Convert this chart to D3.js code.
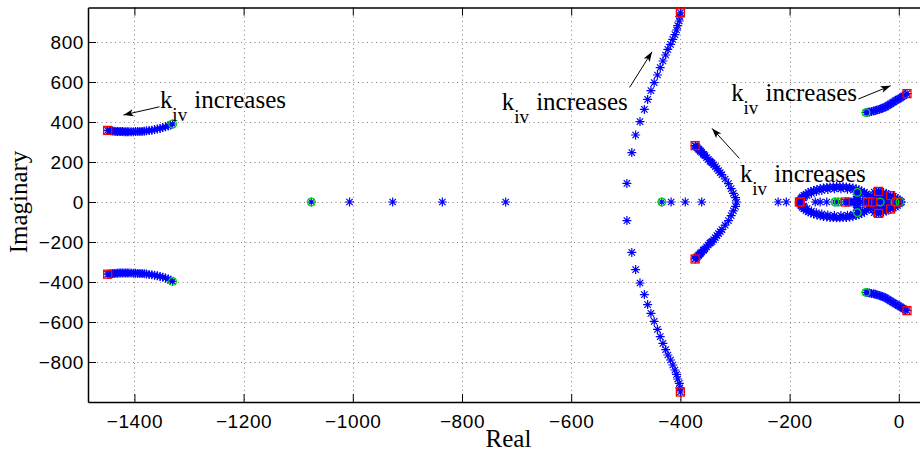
<!DOCTYPE html>
<html>
<head>
<meta charset="utf-8">
<script src="https://cdn.jsdelivr.net/npm/d3@7"></script>
<style>
body { margin: 0; background: #fff; }
svg { display: block; }
</style>
</head>
<body>
<script>
// root locus points [real, imag]
var branchA_up = [[-1449,358],[-1446,357],[-1443,356],[-1440,355],[-1437,354],[-1434,353],[-1431,353],[-1428,352],[-1425,352],[-1422,352],[-1419,351],[-1416,351],[-1413,351],[-1410,351],[-1406,351],[-1402,351],[-1398,352],[-1394,352],[-1390,353],[-1386,353],[-1382,354],[-1378,356],[-1373,357],[-1368,359],[-1363,362],[-1358,365],[-1353,368],[-1348,372],[-1343,376],[-1338,381],[-1334,385],[-1330,390]];
var branchA_lo = [[-1449,-361],[-1446,-360],[-1443,-359],[-1440,-358],[-1437,-357],[-1434,-356],[-1431,-356],[-1428,-355],[-1425,-355],[-1422,-355],[-1419,-355],[-1416,-355],[-1413,-355],[-1410,-355],[-1406,-355],[-1402,-356],[-1398,-356],[-1394,-357],[-1390,-357],[-1386,-358],[-1382,-359],[-1378,-360],[-1373,-362],[-1368,-364],[-1363,-366],[-1358,-369],[-1353,-372],[-1348,-376],[-1343,-380],[-1338,-385],[-1334,-391],[-1330,-397]];
var branchB_axis = [[-1076,0],[-1006,0],[-927,0],[-836,0],[-720,0]];
var branchB_up = [[-498,93],[-489,247],[-482,335],[-474,402],[-466,463],[-460,513],[-454,557],[-448,597],[-442,635],[-437,672],[-432,705],[-427,735],[-423,763],[-418,788],[-414,813],[-410,837],[-407,860],[-405,882],[-402,905],[-401,927],[-400,946]];
var branchB_lo = [[-498,-93],[-489,-252],[-482,-338],[-474,-405],[-466,-463],[-460,-513],[-454,-557],[-448,-597],[-442,-637],[-437,-673],[-432,-707],[-427,-738],[-423,-765],[-418,-790],[-414,-815],[-410,-840],[-407,-862],[-405,-885],[-402,-907],[-401,-929],[-400,-950]];
var branchC_axis = [[-434,0],[-417,0],[-391,0],[-361,0],[-297,0]];
var branchC_up = [[-299,22],[-303,43],[-307,67],[-312,92],[-318,115],[-324,137],[-327,147],[-330,157],[-333,167],[-336,177],[-339,186],[-342,195],[-344,200],[-346,204],[-349,213],[-352,222],[-355,232],[-357,237],[-358,240],[-361,248],[-363,253],[-364,257],[-366,262],[-367,265],[-369,270],[-370,274],[-372,279],[-373,282]];
var branchC_lo = [[-299,-22],[-303,-44],[-307,-68],[-312,-93],[-318,-116],[-324,-138],[-327,-148],[-330,-158],[-333,-168],[-336,-178],[-339,-188],[-342,-197],[-344,-202],[-346,-206],[-349,-215],[-352,-224],[-355,-234],[-357,-239],[-358,-242],[-361,-250],[-363,-255],[-364,-259],[-366,-264],[-367,-268],[-369,-273],[-370,-277],[-372,-282],[-373,-285]];
var branchD_up = [[-60,447],[-57,449],[-54,450],[-50,453],[-46,455],[-43,457],[-40,460],[-36,463],[-33,466],[-30,469],[-27,472],[-24,476],[-21,481],[-18,486],[-15,491],[-12,496],[-9,501],[-6,507],[-3,511],[0,516],[3,520],[6,525],[9,531],[12,537],[15,542]];
var branchD_lo = [[-60,-452],[-57,-453],[-54,-455],[-50,-457],[-46,-459],[-43,-461],[-40,-464],[-36,-467],[-33,-470],[-30,-473],[-27,-476],[-24,-480],[-21,-485],[-18,-490],[-15,-495],[-12,-500],[-9,-505],[-6,-510],[-3,-514],[0,-519],[3,-524],[6,-529],[9,-534],[12,-539],[15,-543]];
var branchE_up = [[-182,2],[-181,10],[-179,18],[-177,26],[-174,33],[-170,40],[-166,47],[-161,53],[-156,58],[-150,63],[-144,67],[-138,70],[-132,73],[-126,75],[-120,76],[-114,77],[-108,77],[-102,76],[-96,75],[-90,73],[-84,70],[-78,66],[-73,61],[-68,55],[-63,48],[-59,41],[-55,33],[-52,25],[-50,16],[-49,8]];
var branchE_lo = [[-182,-2],[-181,-10],[-179,-19],[-177,-27],[-174,-34],[-170,-42],[-166,-49],[-161,-55],[-156,-60],[-150,-65],[-144,-69],[-138,-72],[-132,-75],[-126,-77],[-120,-78],[-114,-79],[-108,-79],[-102,-78],[-96,-77],[-90,-75],[-84,-72],[-78,-68],[-73,-63],[-68,-57],[-63,-50],[-59,-42],[-55,-34],[-52,-26],[-50,-17],[-49,-8]];
var branchE2_up = [[-178,8],[-174,20],[-168,32],[-160,43],[-151,52],[-141,58],[-130,63],[-118,66],[-106,66],[-94,64],[-83,59],[-74,52],[-66,42]];
var branchE2_lo = [[-178,-8],[-174,-21],[-168,-33],[-160,-45],[-151,-54],[-141,-60],[-130,-65],[-118,-68],[-106,-68],[-94,-66],[-83,-61],[-74,-54],[-66,-44]];
var innerAxis = [[-221,0],[-206,0],[-153,0],[-144,0],[-132,0],[-117,0],[-111,0],[-98,0],[-95,0],[-92,0],[-89,0],[-86,0],[-83,0],[-80,0],[-77,0],[-66,0],[-62,0],[-57,0],[-54,0],[-50,0],[-46,0],[-42,0],[-38,0],[-34,0],[-28,0],[-24,0],[-20,0],[-16,0],[-12,0],[-8,0],[-5,0],[-2,0],[2,0],[5,0]];
var innerVert = [[-76,48],[-76,38],[-76,28],[-76,18],[-76,8],[-76,-8],[-76,-18],[-76,-28],[-76,-40],[-76,-53]];
var innerLoop_up = [[-45,50],[-41,53],[-37,53],[-33,51],[-28,47],[-23,42],[-19,37],[-15,32],[-10,28],[-6,22],[-2,16],[1,9],[3,3],[-42,38],[-36,40],[-30,36],[-42,24],[-36,26],[-30,22],[-24,28],[-22,14],[-16,20]];
var innerLoop_lo = [[-45,-53],[-41,-56],[-37,-57],[-33,-54],[-28,-50],[-23,-45],[-19,-40],[-15,-35],[-10,-30],[-6,-24],[-2,-17],[1,-10],[3,-3],[-42,-40],[-36,-42],[-30,-38],[-42,-25],[-36,-28],[-30,-24],[-24,-30],[-22,-15],[-16,-21]];
var startMarks = [[-1330,390],[-1330,-397],[-1076,0],[-434,0],[-60,447],[-60,-452],[-117,0],[-111,0],[-76,48],[-76,-53],[-34,0],[-7,0],[2,0]];
var endMarks = [[-1449,358],[-1449,-361],[-400,946],[-400,-950],[-373,282],[-373,-285],[15,542],[15,-543],[-182,0],[-180,0],[-98,0],[-57,0],[-48,0],[-37,53],[-37,-57],[-15,32],[-15,-35],[-3,0]];

var xTicks = [-1400,-1200,-1000,-800,-600,-400,-200,0];
var yTicks = [-800,-600,-400,-200,0,200,400,600,800];

// annotation anchors in data units: text anchor, arrow tail, arrow head
var notes = [
    {text: [-1353,470], tail: [-1354,476], head: [-1420,435]},
    {text: [-727,460], tail: [-493,573], head: [-452,751]},
    {text: [-307,506], tail: [-74,515], head: [-15,581]},
    {text: [-291,101], tail: [-292,218], head: [-342,368]}
];

var W = 920, H = 455;
var plotLeft = 88, plotRight = 925, plotTop = 7.6, plotBottom = 402;

var canvas = d3.select("body").append("svg")
    .attr("width", W)
    .attr("height", H);

var x = d3.scaleLinear().domain([-1485, 48]).range([plotLeft, plotRight]);
var y = d3.scaleLinear().domain([-1000, 972]).range([plotBottom, plotTop]);

// grid
var grid = canvas.append("g")
    .attr("stroke", "#808080")
    .attr("stroke-width", 1)
    .attr("stroke-dasharray", "1,3.5");
xTicks.forEach(function(t){
    grid.append("line")
        .attr("x1", Math.round(x(t)) + 0.5).attr("x2", Math.round(x(t)) + 0.5)
        .attr("y1", plotTop).attr("y2", plotBottom);
});
yTicks.forEach(function(t){
    grid.append("line")
        .attr("x1", plotLeft).attr("x2", plotRight)
        .attr("y1", Math.round(y(t)) + 0.5).attr("y2", Math.round(y(t)) + 0.5);
});

function fmt(d){ return d < 0 ? "\u2212" + Math.abs(d) : d; }

// axes (MATLAB style: ticks inside, box on)
var xAxis = canvas.append("g")
    .attr("transform", "translate(0," + plotBottom + ")")
    .call(d3.axisBottom(x).tickValues(xTicks).tickSizeInner(-8).tickSizeOuter(0).tickPadding(13).tickFormat(fmt));
var xTop = canvas.append("g")
    .attr("transform", "translate(0," + plotTop + ")")
    .call(d3.axisTop(x).tickValues(xTicks).tickSizeInner(-8).tickSizeOuter(0).tickFormat(""));
var yAxis = canvas.append("g")
    .attr("transform", "translate(" + plotLeft + ",0)")
    .call(d3.axisLeft(y).tickValues(yTicks).tickSizeInner(-8).tickSizeOuter(0).tickPadding(4).tickFormat(fmt));

[xAxis, xTop, yAxis].forEach(function(g){
    g.select(".domain").attr("stroke", "#000").attr("stroke-width", 1.5);
    g.selectAll(".tick line").attr("stroke", "#000").attr("stroke-width", 1);
    g.selectAll(".tick text")
        .attr("fill", "#000")
        .style("font-family", "'Liberation Sans', Arial, sans-serif")
        .style("font-size", "19px")
        .style("letter-spacing", "0.6px");
});
yAxis.selectAll(".tick text").attr("dy", "0.36em");

// loci
var loci = [].concat(branchA_up, branchA_lo, branchB_axis, branchB_up, branchB_lo,
    branchC_axis, branchC_up, branchC_lo, branchD_up, branchD_lo,
    branchE_up, branchE_lo, branchE2_up, branchE2_lo, innerAxis, innerVert, innerLoop_up, innerLoop_lo);

var star = "M-4.5,0H4.5M0,-4.5V4.5M-3.2,-3.2L3.2,3.2M-3.2,3.2L3.2,-3.2";

canvas.append("g").selectAll("path")
    .data(loci)
    .enter().append("path")
    .attr("d", star)
    .attr("transform", function(d){ return "translate(" + x(d[0]) + "," + y(d[1]) + ")"; })
    .attr("fill", "none")
    .attr("stroke", "#0000ff")
    .attr("stroke-width", 1.2);

canvas.append("g").selectAll("circle")
    .data(startMarks)
    .enter().append("circle")
    .attr("cx", function(d){ return x(d[0]); })
    .attr("cy", function(d){ return y(d[1]); })
    .attr("r", 3.8)
    .attr("fill", "none")
    .attr("stroke", "#00dd00")
    .attr("stroke-width", 1.3);

canvas.append("g").selectAll("rect")
    .data(endMarks)
    .enter().append("rect")
    .attr("x", function(d){ return x(d[0]) - 4; })
    .attr("y", function(d){ return y(d[1]) - 4; })
    .attr("width", 8)
    .attr("height", 8)
    .attr("fill", "none")
    .attr("stroke", "#ff0000")
    .attr("stroke-width", 1.3);

// annotations
var serif = "'Liberation Serif', 'Times New Roman', serif";
notes.forEach(function(n){
    var tx = x(n.text[0]), ty = y(n.text[1]);
    canvas.append("text").attr("x", tx).attr("y", ty)
        .style("font-family", serif).style("font-size", "25px").text("k");
    canvas.append("text").attr("x", tx + 12.3).attr("y", ty + 13.2)
        .style("font-family", serif).style("font-size", "19px").text("iv");
    canvas.append("text").attr("x", tx + 34.3).attr("y", ty)
        .style("font-family", serif).style("font-size", "25px").text("increases");

    var x1 = x(n.tail[0]), y1 = y(n.tail[1]), x2 = x(n.head[0]), y2 = y(n.head[1]);
    var ang = Math.atan2(y2 - y1, x2 - x1) * 180 / Math.PI;
    canvas.append("line")
        .attr("x1", x1).attr("y1", y1).attr("x2", x2).attr("y2", y2)
        .attr("stroke", "#000").attr("stroke-width", 1);
    canvas.append("path")
        .attr("d", "M0,0L-10,-3.5L-7.5,0L-10,3.5Z")
        .attr("transform", "translate(" + x2 + "," + y2 + ") rotate(" + ang + ")")
        .attr("fill", "#000");
});

// axis labels
canvas.append("text")
    .attr("x", (plotLeft + plotRight) / 2 + 2)
    .attr("y", 447)
    .attr("text-anchor", "middle")
    .style("font-family", serif)
    .style("font-size", "25px")
    .text("Real");
canvas.append("text")
    .attr("transform", "translate(27," + y(0) + ") rotate(-90)")
    .attr("text-anchor", "middle")
    .style("font-family", serif)
    .style("font-size", "25px")
    .text("Imaginary");
</script>
</body>
</html>
